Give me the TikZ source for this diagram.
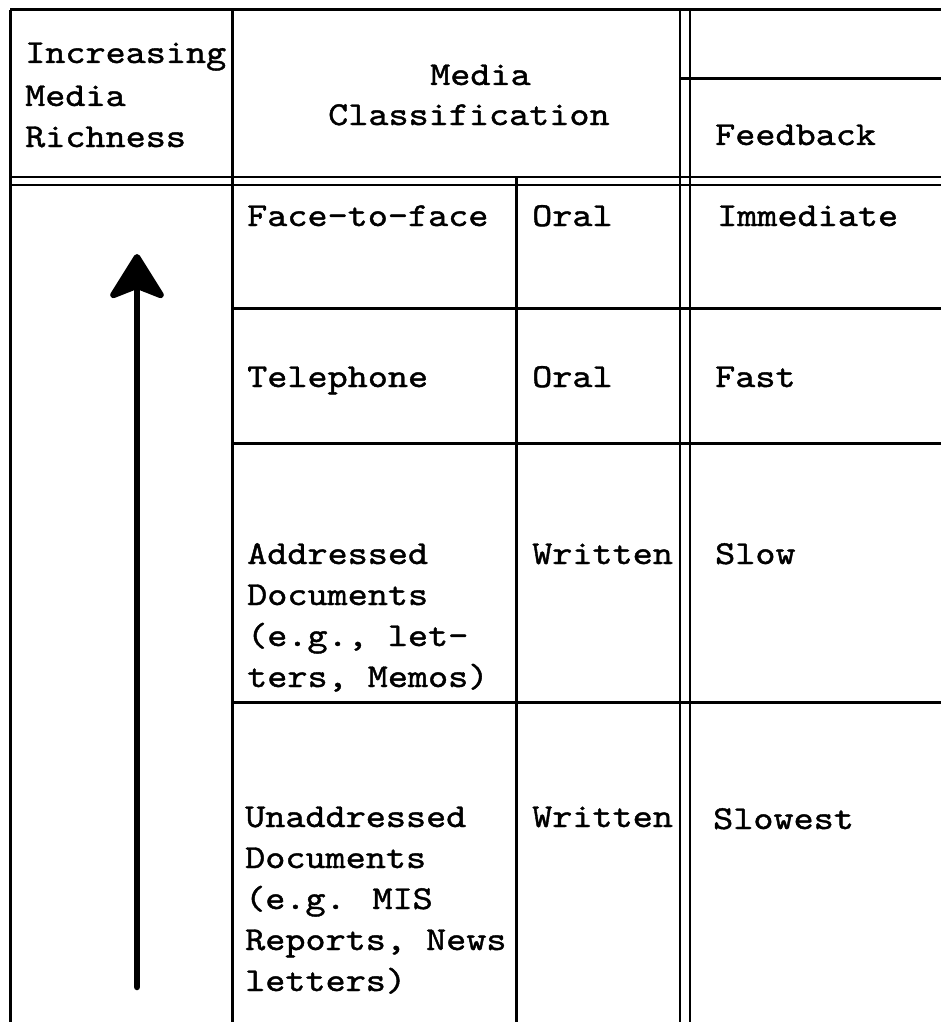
\documentclass[tikz,border=0pt]{standalone}
\usepackage{fontspec}
\newfontfamily\typewriter{lmmono10-regular}[Extension=.otf,FakeStretch=1.143,FakeBold=1.2]
\usetikzlibrary{arrows.meta}
\begin{document}
\begin{tikzpicture}[x=1pt,y=-1pt,
  rule/.style={line width=3pt,black},
  thin rule/.style={line width=2.3pt,black},
  txt/.style={anchor=base west,inner sep=0pt,font=\fontsize{33.5}{41}\typewriter},
  richarrow/.style={line width=6.5pt,line cap=round,-{Stealth[length=50pt,width=62pt,inset=12pt,round]}}]
\useasboundingbox (0,0) rectangle (941,1022);
% outer and header rules
\draw[rule] (10,10) -- (941,10);
\draw[rule] (10,10) -- (10,1022);
\draw[rule] (232,10) -- (232,1022);
\draw[thin rule] (10,177) -- (941,177);
\draw[thin rule] (10,185) -- (941,185);
\draw[thin rule] (680,10) -- (680,1022);
\draw[thin rule] (690,10) -- (690,1022);
\draw[rule] (680,79) -- (941,79);
\draw[rule] (516,177) -- (516,1022);
% row rules
\draw[rule] (232,308) -- (941,308);
\draw[rule] (232,443) -- (941,443);
\draw[rule] (232,702) -- (941,702);
% arrow
\coordinate (abot) at (137,987);
\coordinate (atop) at (137,254);
\draw[richarrow] (abot) -- (atop);
% header texts
\node[txt] (h1a) at (25,63) {Increasing};
\node[txt] (h1b) at (25,106) {Media};
\node[txt] (h1c) at (25,147) {Richness};
\node[txt] (h2a) at (430,85) {Media};
\node[txt] (h2b) at (328,125) {Classification};
\node[txt] (h3) at (715,145) {Feedback};
% row 1
\node[txt] (r1a) at (247,226) {Face-to-face};
\node[txt] (r1b) at (532,226) {Oral};
\node[txt] (r1c) at (717,226) {Immediate};
% row 2
\node[txt] (r2a) at (247,387) {Telephone};
\node[txt] (r2b) at (532,387) {Oral};
\node[txt] (r2c) at (715,387) {Fast};
% row 3
\node[txt] (r3a) at (247,564) {Addressed};
\node[txt] (r3a2) at (247,605) {Documents};
\node[txt] (r3a3) at (247,646) {(e.g., let-};
\node[txt] (r3a4) at (247,687) {ters, Memos)};
\node[txt] (r3b) at (532,564) {Written};
\node[txt] (r3c) at (715,564) {Slow};
% row 4
\node[txt] (r4a) at (245,827) {Unaddressed};
\node[txt] (r4a2) at (245,868) {Documents};
\node[txt] (r4a3) at (245,909) {(e.g. MIS};
\node[txt] (r4a4) at (245,950) {Reports, News};
\node[txt] (r4a5) at (245,991) {letters)};
\node[txt] (r4b) at (532,827) {Written};
\node[txt] (r4c) at (713,829) {Slowest};
\end{tikzpicture}
\end{document}
